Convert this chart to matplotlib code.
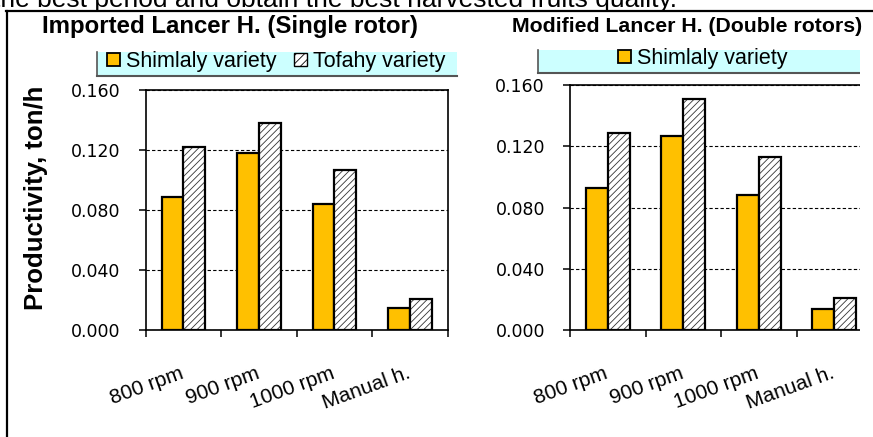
import numpy as np
import matplotlib
matplotlib.use("Agg")
import matplotlib.pyplot as plt
from matplotlib.patches import Patch, Rectangle
from matplotlib.lines import Line2D

# ---------------- data ----------------
categories = ["800 rpm", "900 rpm", "1000 rpm", "Manual h."]
imported_shimlaly = [0.089, 0.118, 0.084, 0.015]
imported_tofahy = [0.122, 0.138, 0.107, 0.021]
modified_shimlaly = [0.093, 0.127, 0.088, 0.014]
modified_tofahy = [0.129, 0.151, 0.113, 0.021]
yticks = [0.000, 0.040, 0.080, 0.120, 0.160]
ytick_labels = ["0.000", "0.040", "0.080", "0.120", "0.160"]
title_left = "Imported Lancer H. (Single rotor)"
title_right = "Modified Lancer H. (Double rotors)"
ylabel = "Productivity, ton/h"
legend_left = ["Shimlaly variety", "Tofahy variety"]
legend_right = ["Shimlaly variety"]
page_text = "the best period and obtain the best harvested fruits quality."

# ---------------- style ----------------
W, H = 873, 437
plt.rcParams['font.family'] = ['DejaVu Sans']
plt.rcParams['hatch.linewidth'] = 0.6
ARIAL = 'Liberation Sans'
YELLOW = '#FFC000'
CYAN = '#CCFFFF'
BORDER = '#555555'

fig = plt.figure(figsize=(W / 100, H / 100), dpi=100)
fig.patch.set_facecolor('white')


def fx(px):
    return px / W


def fy(py):
    return 1 - py / H


def make_panel(rect, shim, tofa, show_right_spine=True):
    ax = fig.add_axes(rect)
    x = np.arange(len(categories))
    w = 0.29
    ax.bar(x - w / 2, shim, w, color=YELLOW, edgecolor='black', linewidth=1.6, zorder=3)
    # hatched bars: hatch layer + outline layer
    ax.bar(x + w / 2, tofa, w, color='white', edgecolor='#333333', hatch='/////',
           linewidth=0, zorder=3)
    ax.bar(x + w / 2, tofa, w, facecolor='none', edgecolor='black', linewidth=1.6, zorder=4)
    ax.set_xlim(-0.5, len(categories) - 0.5)
    ax.set_ylim(0, 0.16)
    ax.set_yticks(yticks)
    ax.set_yticklabels(ytick_labels, fontsize=12.5)
    ax.set_xticks(x - 0.05)
    ax.set_xticklabels(categories, fontsize=15, family=ARIAL)
    ax.set_xticks(np.arange(len(categories) + 1) - 0.5, minor=True)
    ax.tick_params(axis='x', which='major', length=0, pad=24)
    ax.tick_params(axis='x', which='minor', length=5, width=1.1, direction='out')
    ax.tick_params(axis='y', length=5, width=1.1, direction='out', pad=13)
    plt.setp(ax.get_xticklabels(), rotation=20, ha='right', rotation_mode='anchor')
    ax.yaxis.grid(True, linestyle=(0, (3, 2)), color='black', linewidth=0.8, zorder=1)
    ax.set_axisbelow(True)
    for s in ax.spines.values():
        s.set_linewidth(1.2)
        s.set_color('black')
    ax.spines['right'].set_visible(show_right_spine)
    return ax


axL = make_panel([fx(145.7), fy(330.3), fx(447.7 - 145.7), (330.3 - 90) / H],
                 imported_shimlaly, imported_tofahy)
axR = make_panel([fx(570), fy(330.3), fx(872 - 570), (330.3 - 85) / H],
                 modified_shimlaly, modified_tofahy, show_right_spine=False)

# titles and y label
fig.text(fx(230.5), fy(33), title_left, ha='center', va='baseline',
         fontsize=17.3, fontweight='bold', family=ARIAL)
fig.text(fx(687.5), fy(31.5), title_right, ha='center', va='baseline',
         fontsize=15.3, fontweight='bold', family=ARIAL)
fig.text(fx(36), fy(198), ylabel, rotation=90, ha='center', va='center',
         fontsize=18.5, fontweight='bold', family=ARIAL)

# legend backgrounds (cyan band with left and bottom border)
fig.add_artist(Rectangle((fx(97), fy(76)), fx(457 - 97), (76 - 52) / H,
                         transform=fig.transFigure, facecolor=CYAN, edgecolor='none', zorder=1))
fig.add_artist(Line2D([fx(97), fx(97)], [fy(52), fy(76)], color=BORDER, lw=1.2,
                      transform=fig.transFigure, zorder=2))
fig.add_artist(Line2D([fx(97), fx(457)], [fy(76), fy(76)], color=BORDER, lw=1.5,
                      transform=fig.transFigure, zorder=2))

fig.add_artist(Rectangle((fx(538), fy(73)), fx(873 - 538), (73 - 50) / H,
                         transform=fig.transFigure, facecolor=CYAN, edgecolor='none', zorder=1))
fig.add_artist(Line2D([fx(538), fx(538)], [fy(50), fy(73)], color=BORDER, lw=1.2,
                      transform=fig.transFigure, zorder=2))
fig.add_artist(Line2D([fx(538), fx(873)], [fy(73), fy(73)], color=BORDER, lw=1.5,
                      transform=fig.transFigure, zorder=2))

h_shim = Patch(facecolor=YELLOW, edgecolor='black', linewidth=1.3)
h_tofa = Patch(facecolor='white', edgecolor='black', hatch='////', linewidth=1.0)

legend_font = {'family': ARIAL, 'size': 15.5}
legL = fig.legend([h_shim, h_tofa], legend_left, loc='center left',
                  bbox_to_anchor=(fx(107), fy(61.5)), ncol=2, frameon=False,
                  prop=legend_font, borderpad=0, borderaxespad=0, handlelength=0.6,
                  handleheight=0.6, handletextpad=0.3, columnspacing=0.8)
legL.set_zorder(5)
legR = fig.legend([h_shim], legend_right, loc='center left',
                  bbox_to_anchor=(fx(618), fy(58.5)), ncol=1, frameon=False,
                  prop=legend_font, borderpad=0, borderaxespad=0, handlelength=0.6,
                  handleheight=0.6, handletextpad=0.3)
legR.set_zorder(5)

# clipped right edge of the second chart
fig.add_artist(Rectangle((fx(860), 0), fx(14), fy(40), transform=fig.transFigure,
                         facecolor='white', edgecolor='none', zorder=10))

# page frame and cut-off page text
fig.add_artist(Line2D([fx(7), fx(7)], [0, fy(11)], color='black', lw=1.6,
                      transform=fig.transFigure, zorder=11))
fig.add_artist(Line2D([fx(6), 1], [fy(11), fy(11)], color='black', lw=1.6,
                      transform=fig.transFigure, zorder=11))
fig.text(fx(677), fy(6.5), page_text, ha='right', va='baseline', fontsize=19,
         family=ARIAL, zorder=11)

fig.savefig("out.png", dpi=100, facecolor='white')
